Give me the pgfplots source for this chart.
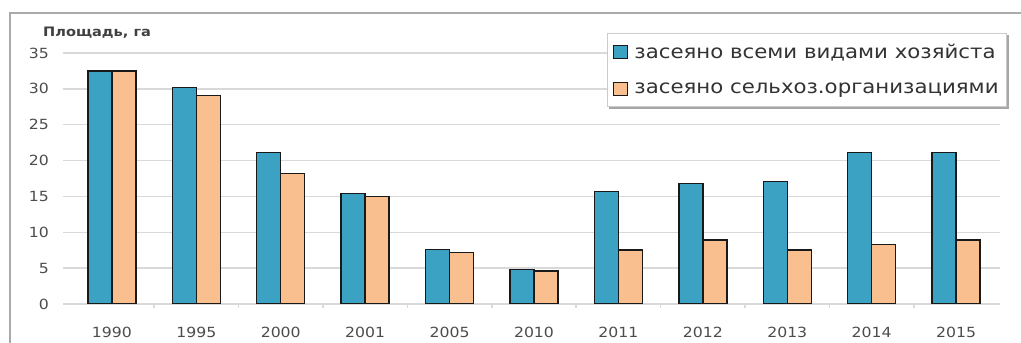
\documentclass[border=0pt]{standalone}
\usepackage{fontspec}
\setmainfont{DejaVu Sans}[FakeStretch=1.12]
\usepackage{pgfplots}
\pgfplotsset{compat=1.18}
\usetikzlibrary{backgrounds}

\definecolor{barblue}{RGB}{60,162,196}
\definecolor{barorange}{RGB}{250,191,143}
\definecolor{gridgray}{RGB}{217,217,217}
\definecolor{framegray}{RGB}{170,170,170}

% square legend swatch with a small gap before the text
\pgfplotsset{sqlegend/.style={legend image code/.code={%
  \draw[##1, line width=1.2pt] (0pt,-6.5pt) rectangle (14pt,6.5pt);
  \path (18pt,0pt);}}}

\begin{document}
\begin{tikzpicture}[x=1pt,y=1pt]
\path[use as bounding box] (0,0) rectangle (1021,343);
% chart frame
\begin{scope}
\clip (0,0) rectangle (1021,343);
\draw[framegray, line width=1.5pt] (10,330) rectangle (1040,-20);
\end{scope}
% axis title
\node[anchor=west, inner sep=0pt, text=black!75,
      font=\bfseries\fontsize{13}{15}\selectfont] at (43,310) {Площадь, га};
\begin{axis}[
  at={(68pt,39pt)}, anchor=south west,
  scale only axis, width=932pt, height=251pt,
  ybar=0pt, bar width=24pt,
  xmin=-0.52, xmax=10.52, ymin=0, ymax=35,
  ytick={0,5,...,35},
  xtick={0,...,10},
  xticklabels={1990,1995,2000,2001,2005,2010,2011,2012,2013,2014,2015},
  minor xtick={0.5,1.5,...,9.5},
  tick pos=left, tick align=outside,
  major tick length=5pt, minor tick length=4pt,
  tick style={gridgray, line width=1.5pt},
  major x tick style={draw=none},
  ymajorgrids, grid style={gridgray, line width=1.5pt},
  axis line style={draw=none},
  /pgf/number format/assume math mode=true,
  ticklabel style={inner sep=0pt, text=black!70, font=\fontsize{14}{16}\selectfont},
  yticklabel style={anchor=east, xshift=-14pt},
  xticklabel style={anchor=north, yshift=-18pt},
  legend style={name=leg, at={(0.578,1.08)}, anchor=north west,
    draw=gray!40, fill=white, line width=0.8pt,
    font=\fontsize{19}{21}\selectfont, text=black!80,
    inner xsep=6pt, inner ysep=9pt, row sep=19pt},
  legend cell align=left,
]
\addplot[fill=barblue, draw=black!90, line width=1.5pt, sqlegend]
  coordinates {(0,32.5) (1,30.2) (2,21.1) (3,15.4) (4,7.6) (5,4.8)
               (6,15.7) (7,16.8) (8,17.1) (9,21.1) (10,21.1)};
\addplot[fill=barorange, draw=black!90, line width=1.5pt, sqlegend]
  coordinates {(0,32.5) (1,29.1) (2,18.2) (3,15.0) (4,7.2) (5,4.6)
               (6,7.5) (7,8.9) (8,7.5) (9,8.3) (10,8.9)};
\legend{засеяно всеми видами хозяйста, засеяно сельхоз.организациями}
\end{axis}
% legend shadow
\begin{scope}[on background layer]
\fill[black!35] ([shift={(2.5pt,-2.5pt)}]leg.south west)
  rectangle ([shift={(2.5pt,-2.5pt)}]leg.north east);
\end{scope}
\end{tikzpicture}
\end{document}
